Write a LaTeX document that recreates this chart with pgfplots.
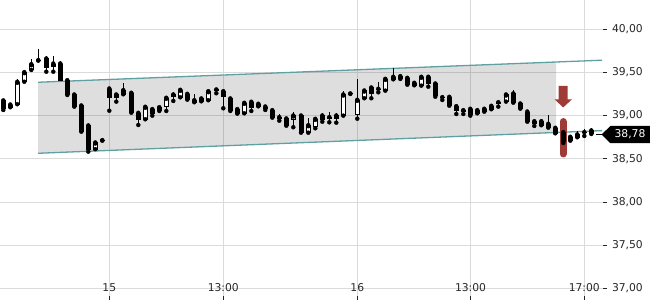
\documentclass[border=0pt]{standalone}
\usepackage{fontspec}
\setmainfont{DejaVu Sans}
\usepackage{pgfplots}
\usepackage{pgfplotstable}
\pgfplotsset{compat=1.18}
\definecolor{gridc}{RGB}{219,219,219}
\definecolor{teal2}{RGB}{95,160,162}
\definecolor{redc}{RGB}{158,59,54}
\pgfplotstableread{
x o h l c
3.3 39.168 39.168 39.064 39.083
10.3 39.098 39.145 39.095 39.121
17.3 39.130 39.418 39.130 39.384
24.3 39.390 39.514 39.390 39.495
31.3 39.526 39.650 39.526 39.587
38.3 39.634 39.765 39.634 39.634
46.3 39.653 39.690 39.506 39.557
53.3 39.595 39.688 39.506 39.564
60.3 39.595 39.634 39.595 39.402
67.3 39.402 39.418 39.237 39.237
74.3 39.237 39.252 39.102 39.102
81.3 39.110 39.120 38.813 38.813
88.3 38.879 38.879 38.582 38.601
95.3 38.610 38.697 38.610 38.682
102.3 38.709 38.709 38.709 38.709
109.3 39.306 39.315 39.055 39.206
116.3 39.206 39.257 39.160 39.237
123.3 39.245 39.372 39.245 39.287
131.3 39.257 39.287 39.032 39.032
138.3 39.025 39.052 38.890 38.948
145.3 38.956 39.110 38.956 39.095
152.3 39.068 39.090 38.998 39.021
159.3 39.052 39.098 39.052 39.090
166.3 39.106 39.217 39.052 39.199
173.3 39.237 39.268 39.168 39.214
180.3 39.210 39.295 39.210 39.291
187.3 39.245 39.245 39.183 39.183
194.3 39.171 39.245 39.153 39.153
201.3 39.164 39.217 39.164 39.191
208.3 39.176 39.283 39.176 39.275
216.3 39.295 39.322 39.257 39.287
223.3 39.275 39.283 39.083 39.222
230.3 39.191 39.191 39.052 39.052
237.3 39.068 39.083 39.021 39.021
244.3 39.025 39.141 39.025 39.141
251.3 39.153 39.160 39.052 39.090
258.3 39.130 39.130 39.106 39.106
265.3 39.098 39.098 39.064 39.079
272.3 39.056 39.064 38.975 38.975
279.3 38.975 39.014 38.940 38.960
286.3 38.960 38.960 38.882 38.882
293.3 38.956 39.037 38.864 38.994
301.0 38.994 39.006 38.801 38.801
308.3 38.801 38.968 38.801 38.882
315.3 38.870 38.956 38.852 38.956
322.3 38.994 39.033 38.928 38.948
329.3 38.975 39.037 38.921 38.960
336.3 38.968 39.033 38.917 38.994
343.3 38.998 39.283 38.998 39.237
350.3 39.249 39.249 39.249 39.249
357.3 39.014 39.422 38.963 39.176
364.3 39.199 39.306 39.199 39.283
371.3 39.318 39.341 39.199 39.257
378.3 39.295 39.391 39.268 39.303
385.3 39.287 39.442 39.287 39.418
393.3 39.418 39.553 39.418 39.442
400.3 39.449 39.468 39.422 39.422
407.3 39.430 39.430 39.356 39.356
414.3 39.372 39.372 39.349 39.349
421.3 39.345 39.472 39.345 39.442
428.3 39.442 39.468 39.333 39.364
435.3 39.364 39.364 39.217 39.229
442.3 39.206 39.237 39.179 39.206
449.3 39.210 39.240 39.113 39.113
456.3 39.102 39.102 39.017 39.056
463.3 39.056 39.056 39.017 39.049
470.3 39.072 39.072 38.998 39.017
477.3 39.025 39.087 39.025 39.056
484.3 39.044 39.095 39.044 39.072
491.3 39.072 39.106 39.072 39.106
498.3 39.148 39.148 39.102 39.133
506.0 39.160 39.257 39.160 39.237
513.3 39.249 39.295 39.148 39.148
520.3 39.133 39.148 39.079 39.079
527.3 39.040 39.064 38.928 38.928
534.3 38.928 38.948 38.879 38.913
541.3 38.928 38.960 38.887 38.887
548.3 38.898 39.006 38.859 38.859
555.3 38.852 38.852 38.794 38.794
563.3 38.801 38.801 38.682 38.697
570.3 38.709 38.748 38.709 38.748
577.3 38.748 38.821 38.748 38.775
584.3 38.801 38.840 38.763 38.801
591.3 38.786 38.852 38.786 38.821
}\candles
\begin{document}
\begin{tikzpicture}
\useasboundingbox (0,0) rectangle (650bp,300bp);
\begin{axis}[
  at={(0,0)}, anchor=south west,
  scale only axis, width=603bp, height=300bp,
  xmin=0, xmax=603, ymin=36.867, ymax=40.335,
  clip=false,
  axis line style={draw=none},
  grid=major, major grid style={draw=gridc, line width=0.9bp},
  xtick={109.3,223.3,357.3,470.5,584.3},
  xticklabels={15,13:00,16,13:00,17:00},
  xtick pos=bottom, ytick pos=right,
  ytick={37,37.5,38,38.5,39,39.5,40},
  yticklabel pos=right,
  tick style={draw=black!85, line width=0.8bp},
  major tick length=4bp,
  xtick align=inside, ytick align=outside,
  ticklabel style={font=\fontsize{10.8}{12}\selectfont, text=black!85},
  xticklabel style={anchor=center, yshift=12.5bp},
  yticklabel style={xshift=1.5bp},
  /pgf/number format/.cd, fixed, fixed zerofill, precision=2, use comma, assume math mode=true,
]
% regression channel
\addplot[draw=none, fill=black, fill opacity=0.13, forget plot]
  coordinates {(38,39.384) (556,39.617) (556,38.803) (38,38.563)} -- cycle;
\addplot[teal2, line width=1.3bp, forget plot] coordinates {(38,39.384) (602,39.639)};
\addplot[teal2, line width=1.3bp, forget plot] coordinates {(38,38.563) (602,38.825)};
% red signal
\addplot[redc, line width=7bp, line cap=round, forget plot] coordinates {(563,38.930) (563,38.555)};
\addplot[fill=redc, draw=none, forget plot] coordinates
  {(558.5,39.341) (567.5,39.341) (567.5,39.187) (572,39.187) (563.2,39.093) (554.5,39.187) (558.5,39.187)} -- cycle;
% wicks
\addplot[only marks, mark=none, forget plot,
  error bars/.cd, y dir=plus, y explicit, error mark=none,
  error bar style={line width=1bp, draw=black}]
  table[x=x, y=l, y error plus expr=\thisrow{h}-\thisrow{l}] {\candles};
% bodies (outer, black)
\addplot[only marks, mark=none, forget plot,
  error bars/.cd, y dir=minus, y explicit, error mark=none,
  error bar style={line width=5bp, draw=black}]
  table[x=x, y expr={max(\thisrow{o},\thisrow{c})+0.0058},
        y error minus expr={abs(\thisrow{c}-\thisrow{o})+0.0116}] {\candles};
% bodies (inner, white for rising candles)
\addplot[only marks, mark=none, forget plot,
  restrict expr to domain={\thisrow{c}-\thisrow{o}}{0.015:10},
  error bars/.cd, y dir=minus, y explicit, error mark=none,
  error bar style={line width=3bp, draw=white}]
  table[x=x, y expr={\thisrow{c}-0.0058},
        y error minus expr={\thisrow{c}-\thisrow{o}-0.0116}] {\candles};
% last price tag
\draw[black, line width=1bp] (axis cs:596,38.78) -- (axis cs:602,38.78);
\fill[black] (axis cs:601.5,38.78) -- (axis cs:610.5,38.879) -- (axis cs:650,38.879)
  -- (axis cs:650,38.679) -- (axis cs:610.5,38.679) -- cycle;
\node[text=white, font=\fontsize{10.8}{12}\selectfont, anchor=center] at (axis cs:630,38.78) {38,78};
\end{axis}
\end{tikzpicture}
\end{document}
